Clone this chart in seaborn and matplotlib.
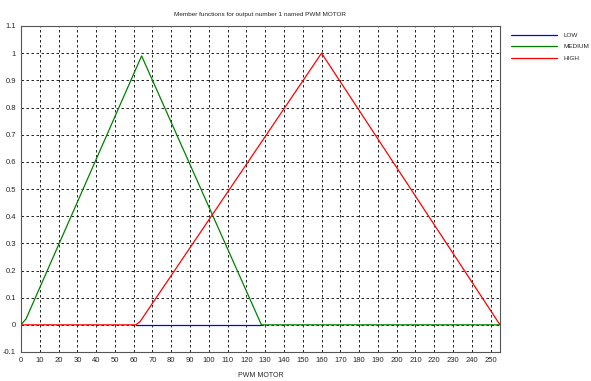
import numpy as np
import seaborn as sns
import matplotlib.pyplot as plt
from matplotlib.ticker import MultipleLocator

low_x = [61.2, 63.4, 127.5]
low_y = [0.0, 0.0, 0.0]
med_x = [0, 2.7, 64.2, 128, 255]
med_y = [0.0, 0.022, 0.99, 0.0, 0.0]
high_x = [0, 61.2, 63.4, 160, 255]
high_y = [0.0, 0.0, 0.012, 1.0, 0.0]

names = ["LOW", "MEDIUM", "HIGH"]
colors = ["#0000ff", "#008000", "#ff0000"]

sns.set_style("white")
plt.rcParams['font.family'] = ['Liberation Sans Narrow', 'Liberation Sans', 'DejaVu Sans']

fig = plt.figure(figsize=(5.91, 3.81), dpi=100)
ax = fig.add_axes([21/591, 1 - 352/381, (500-21)/591, (352-26)/381])

for xs, ys, c, n in zip([low_x, med_x, high_x], [low_y, med_y, high_y], colors, names):
    sns.lineplot(x=xs, y=ys, ax=ax, color=c, lw=0.9, label=n, sort=False, estimator=None)

ax.set_xlim(0, 255)
ax.set_ylim(-0.1, 1.1)
ax.xaxis.set_major_locator(MultipleLocator(10))
ax.xaxis.set_minor_locator(MultipleLocator(5))
ax.yaxis.set_major_locator(MultipleLocator(0.1))
ax.yaxis.set_minor_locator(MultipleLocator(0.05))
ax.set_yticks(np.arange(-0.1, 1.11, 0.1))
ax.set_yticklabels(["-0.1", "0", "0.1", "0.2", "0.3", "0.4", "0.5", "0.6", "0.7", "0.8", "0.9", "1", "1.1"])
ax.grid(True, which="major", color="black", linestyle=(0, (3, 3)), lw=0.6)
ax.tick_params(axis="both", which="major", labelsize=5.5, length=3, width=0.6,
               direction="inout", color="#444444", pad=2)
ax.tick_params(axis="both", which="minor", length=2, width=0.6, direction="in", color="#444444")
for s in ax.spines.values():
    s.set_color("#555555")
    s.set_linewidth(0.8)

ax.set_title("Member functions for output number 1 named PWM MOTOR", fontsize=4.6, pad=7)
ax.set_xlabel("PWM MOTOR", fontsize=5, labelpad=6)
ax.set_ylabel("")

ax.legend_.remove()
handles, labels = ax.get_legend_handles_labels()
fig.legend(handles, labels, loc="upper left", bbox_to_anchor=(507/591, 1 - 28/381),
           frameon=False, fontsize=4.6, handlelength=7.2, handletextpad=1.0,
           labelspacing=0.95, borderpad=0.2)

fig.savefig("out.png", dpi=100)
